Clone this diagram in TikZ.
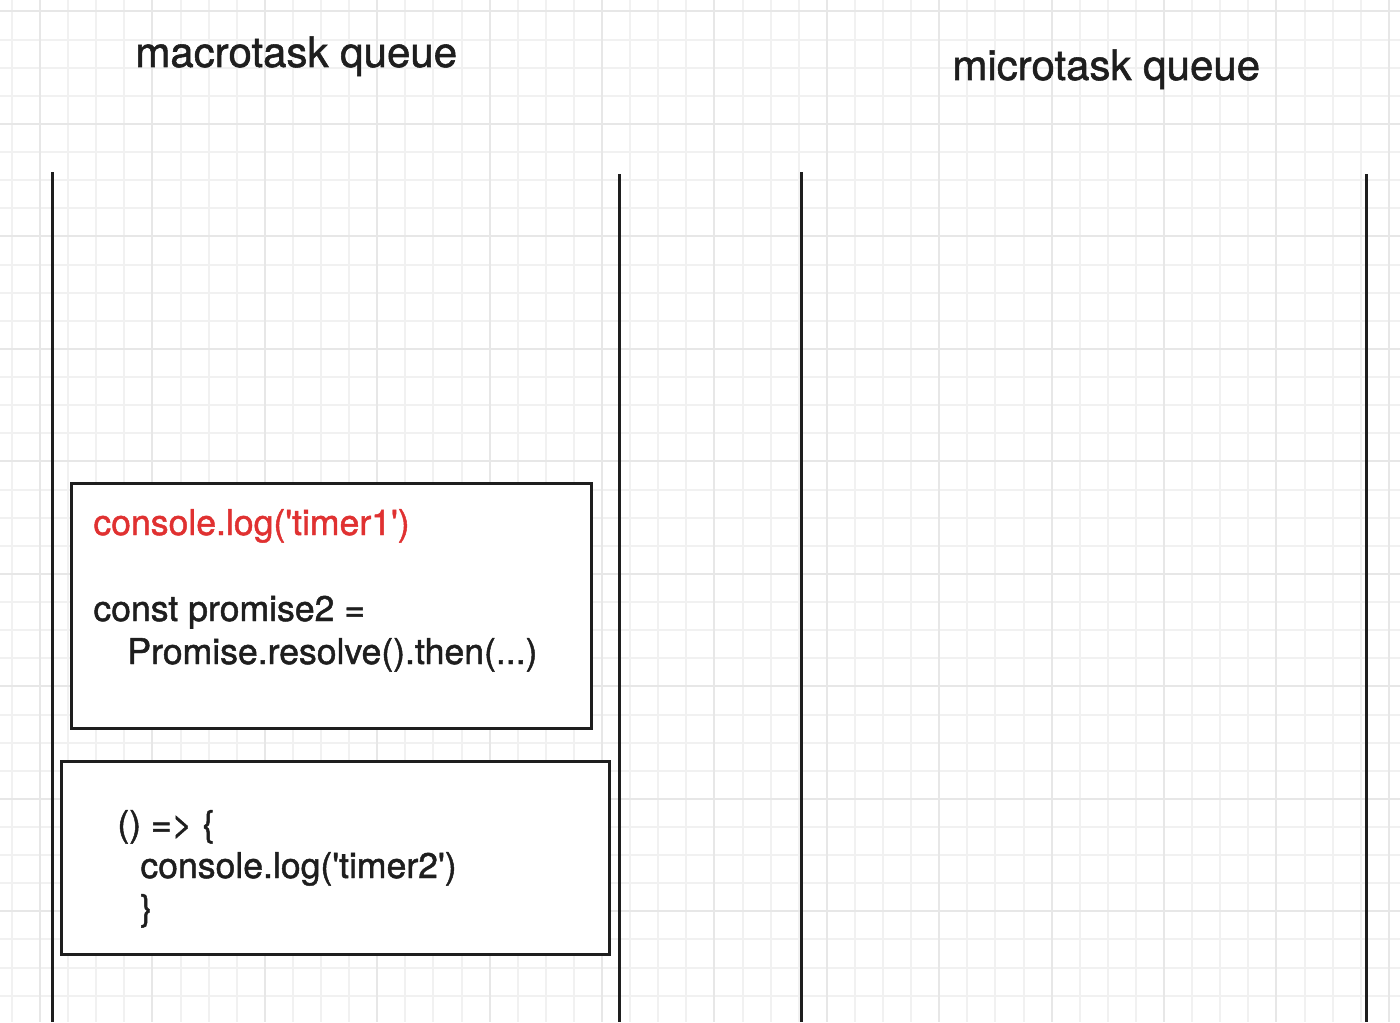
\documentclass[tikz,border=0pt]{standalone}
\usepackage{fontspec}
\setmainfont{TeX Gyre Heros}[FakeBold=1.3]
\usepackage{xcolor}
\usetikzlibrary{positioning}

\definecolor{inkdark}{HTML}{1E1E1E}
\definecolor{inkred}{HTML}{E03131}
\definecolor{gridminor}{HTML}{F1F1F1}
\definecolor{gridmajor}{HTML}{E7E7E7}

\newcommand{\tq}{\textquotesingle}

\begin{document}
\begin{tikzpicture}[x=0.5pt, y=-0.5pt,
                    wall/.style={draw=inkdark, line width=1.5pt},
                    task/.style={draw=inkdark, line width=1.5pt, fill=white, inner sep=0pt},
                    queue_title/.style={inner sep=0pt, anchor=base west, text=inkdark,
                                        font=\fontsize{21pt}{25pt}\selectfont},
                    code/.style={inner sep=0pt, anchor=base west, text=inkdark,
                                 font=\fontsize{17.8pt}{21.5pt}\selectfont}]
    \useasboundingbox (0,0) rectangle (1400,1022);
    \fill[white] (0,0) rectangle (1400,1022);

    % background grid
    \begin{scope}
    \clip (0,0) rectangle (1400,1022);
    \foreach \i in {0,...,49}
        \draw[gridminor, line width=1pt] (11.9+28.1*\i,0) -- (11.9+28.1*\i,1022);
    \foreach \j in {0,...,36}
        \draw[gridminor, line width=1pt] (0,11.5+28.12*\j) -- (1400,11.5+28.12*\j);
    \foreach \i in {1,5,...,49}
        \draw[gridmajor, line width=1pt] (11.9+28.1*\i,0) -- (11.9+28.1*\i,1022);
    \foreach \j in {0,4,...,36}
        \draw[gridmajor, line width=1pt] (0,11.5+28.12*\j) -- (1400,11.5+28.12*\j);
    \end{scope}

    % queue walls
    \draw[wall] (52,172) -- (52,1022);
    \draw[wall] (619,174) -- (619,1022);
    \draw[wall] (801,172) -- (801,1022);
    \draw[wall] (1366,174) -- (1366,1022);

    \node[queue_title] (macro_title) at (135,67) {macrotask queue};
    \node[queue_title] (micro_title) at (952,80) {microtask queue};

    % tasks in the macrotask queue
    \node[task, minimum width=260pt, minimum height=122.5pt] (timer1_task) at (331.5,605.8) {};
    \node[task, minimum width=274pt, minimum height=96.5pt] (timer2_task) at (335.8,858.2) {};

    \node[code, text=inkred] (timer1_log) at (93,535) {console.log(\tq timer1\tq)};
    \node[code] (promise_decl) at (93,621) {const promise2 =};
    \node[code] (promise_then) at (127,664) {Promise.resolve().then(...)};

    \node[code] (arrow_head) at (117,836) {() => \{};
    \node[code] (timer2_log) at (140,878) {console.log(\tq timer2\tq)};
    \node[code] (arrow_end) at (140,920) {\}};

\end{tikzpicture}
\end{document}
